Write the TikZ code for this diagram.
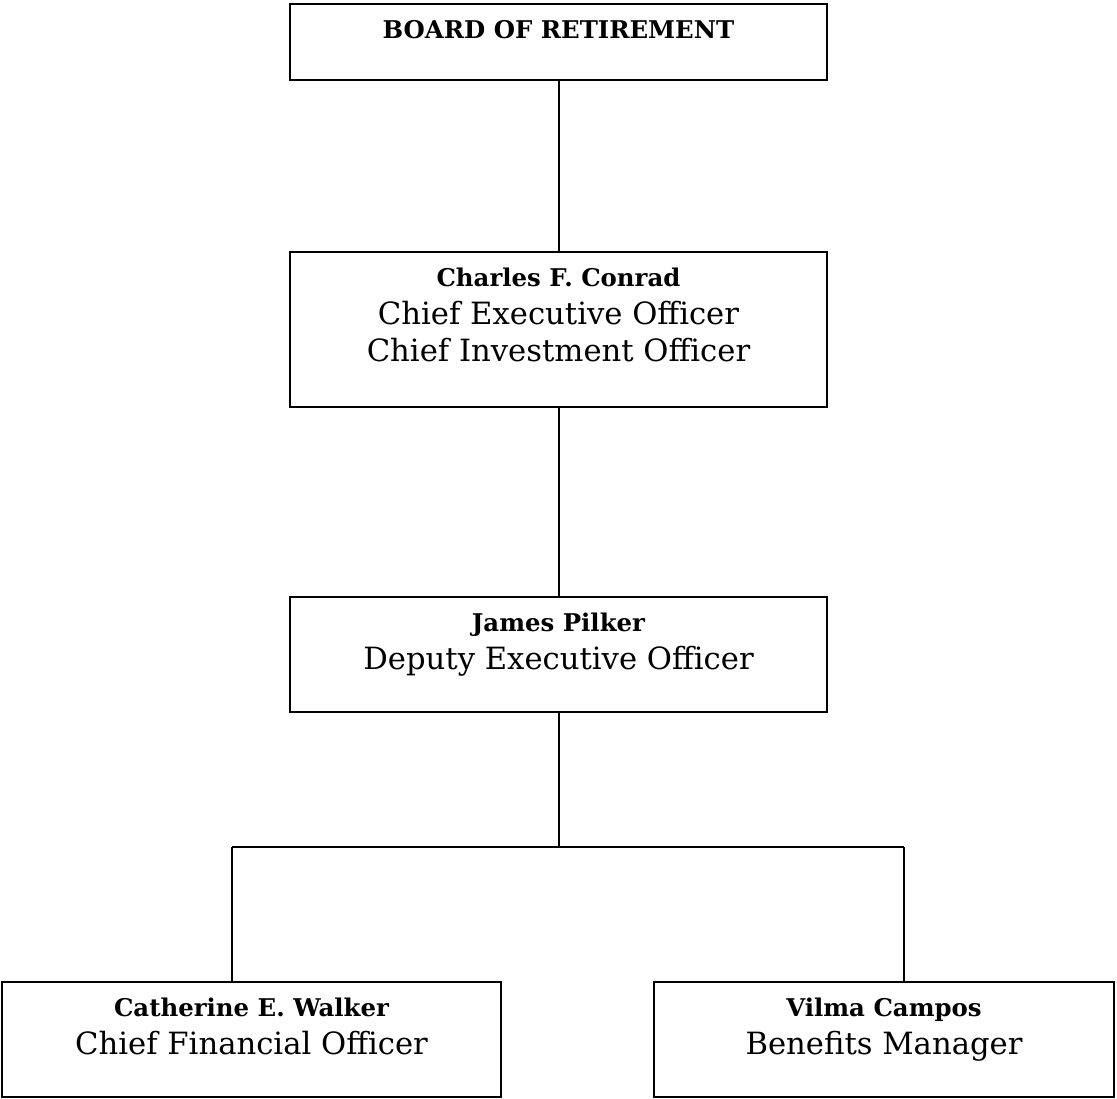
\documentclass[tikz,border=0pt]{standalone}
\usepackage{fontspec}
\setmainfont{DejaVu Serif}
\usepackage{tikz}
\usetikzlibrary{calc,positioning}
\tikzset{
  orgbox/.style={
    draw=black,
    line width=1.5pt,
    inner sep=0pt,
    minimum height=#1
  },
  orgtext/.style={
    anchor=north,
    align=center,
    inner sep=0pt,
    font=\fontsize{23}{28}\selectfont
  },
  link/.style={line width=1.5pt, draw=black}
}
\newcommand{\who}[1]{{\fontsize{18.3}{20}\selectfont\bfseries #1}}

\begin{document}
\begin{tikzpicture}[x=0.75pt,y=-0.75pt]
\useasboundingbox (0,0) rectangle (1117,1099);

\node[orgbox=57pt, minimum width=402.75pt] (board) at (558.5,42) {};
\node[orgbox=116.25pt, minimum width=402.75pt] (ceo) at (558.5,329.5) {};
\node[orgbox=86.25pt, minimum width=402.75pt] (deo) at (558.5,654.5) {};
\node[orgbox=86.25pt, minimum width=374.25pt] (cfo) at (251.5,1039.5) {};
\node[orgbox=86.25pt, minimum width=345pt] (bm) at (884,1039.5) {};

\node[orgtext] (board-txt) at ($(board.north)+(0,17)$) {\who{BOARD OF RETIREMENT}};
\node[orgtext] (ceo-txt) at ($(ceo.north)+(0,17)$) {\who{Charles F. Conrad}\\Chief Executive Officer\\Chief Investment Officer};
\node[orgtext] (deo-txt) at ($(deo.north)+(0,17)$) {\who{James Pilker}\\Deputy Executive Officer};
\node[orgtext] (cfo-txt) at ($(cfo.north)+(0,17)$) {\who{Catherine E. Walker}\\Chief Financial Officer};
\node[orgtext] (bm-txt) at ($(bm.north)+(0,17)$) {\who{Vilma Campos}\\Benefits Manager};

\coordinate (split) at (558.5,847);
\coordinate (dropL) at (232,847);
\coordinate (dropR) at (904,847);

\draw[link] (board) -- (ceo);
\draw[link] (ceo) -- (deo);
\draw[link] (deo) -- (split);
\draw[link] (dropL) -- (dropR);
\draw[link] (dropL) -- (dropL |- cfo.north);
\draw[link] (dropR) -- (dropR |- bm.north);
\end{tikzpicture}
\end{document}
